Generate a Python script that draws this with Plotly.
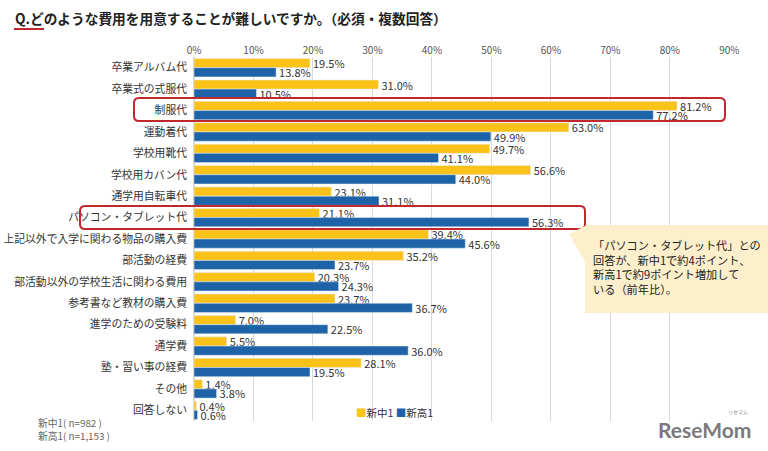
import plotly.graph_objects as go

categories = ["卒業アルバム代", "卒業式の式服代", "制服代", "運動着代", "学校用靴代", "学校用カバン代",
              "通学用自転車代", "パソコン・タブレット代", "上記以外で入学に関わる物品の購入費", "部活動の経費",
              "部活動以外の学校生活に関わる費用", "参考書など教材の購入費", "進学のための受験料", "通学費",
              "塾・習い事の経費", "その他", "回答しない"]
chu1 = [19.5, 31.0, 81.2, 63.0, 49.7, 56.6, 23.1, 21.1, 39.4, 35.2, 20.3, 23.7, 7.0, 5.5, 28.1, 1.4, 0.4]
kou1 = [13.8, 10.5, 77.2, 49.9, 41.1, 44.0, 31.1, 56.3, 45.6, 23.7, 24.3, 36.7, 22.5, 36.0, 19.5, 3.8, 0.6]
series_names = ["新中1", "新高1"]
tickvals = [0, 10, 20, 30, 40, 50, 60, 70, 80, 90]
ticktext = [f"{v}%" for v in tickvals]

W, H = 768, 451
L, R, T, B = 194, 38, 57, 30
PW, PH = W - L - R, H - T - B
FONT = "Noto Sans CJK JP"
YEL = "#FBC21A"
BLU = "#1E63A8"


def px(x):
    return (x - L) / PW


def py(y):
    return (H - B - y) / PH


def rounded(x0, y0, x1, y1, r=5):
    ax0, ax1 = px(x0), px(x1)
    ay0, ay1 = py(y0), py(y1)
    rx, ry = r / PW, r / PH
    return (f"M{ax0+rx},{ay0} L{ax1-rx},{ay0} Q{ax1},{ay0} {ax1},{ay0-ry} "
            f"L{ax1},{ay1+ry} Q{ax1},{ay1} {ax1-rx},{ay1} L{ax0+rx},{ay1} "
            f"Q{ax0},{ay1} {ax0},{ay1+ry} L{ax0},{ay0-ry} Q{ax0},{ay0} {ax0+rx},{ay0} Z")


fig = go.Figure()
for name, vals, col in [(series_names[0], chu1, YEL), (series_names[1], kou1, BLU)]:
    fig.add_trace(go.Bar(y=categories, x=vals, name=name, orientation="h", marker_color=col,
                         texttemplate="%{x:.1f}%", textposition="outside", constraintext="none",
                         cliponaxis=False, textfont=dict(size=11, color="#333333")))

shapes = []
shapes.append(dict(type="path", xref="paper", yref="paper", path=rounded(134, 98, 725, 121),
                   line=dict(color="#C0282D", width=2), fillcolor="rgba(0,0,0,0)", layer="above"))
shapes.append(dict(type="path", xref="paper", yref="paper", path=rounded(80, 206, 585, 229),
                   line=dict(color="#C0282D", width=2), fillcolor="rgba(0,0,0,0)", layer="above"))
callout = (f"M{px(585)},{py(225)} L{px(768)},{py(225)} L{px(768)},{py(313)} L{px(585)},{py(313)} "
           f"L{px(585)},{py(262)} L{px(569)},{py(234)} L{px(587)},{py(225)} Z")
shapes.append(dict(type="path", xref="paper", yref="paper", path=callout,
                   line=dict(width=0), fillcolor="#FDEFCB", layer="above"))
shapes.append(dict(type="line", xref="paper", yref="paper", x0=px(14), x1=px(44), y0=py(29), y1=py(29),
                   line=dict(color="#C0282D", width=2)))

annotations = [
    dict(text="<b>Q.どのような費用を用意することが難しいですか。（必須・複数回答）</b>", xref="paper", yref="paper",
         x=px(13), y=py(18), xanchor="left", yanchor="middle", showarrow=False,
         font=dict(size=13.7, color="#222222", family=FONT)),
    dict(text="「パソコン・タブレット代」との<br>回答が、新中1で約4ポイント、<br>新高1で約9ポイント増加して<br>いる（前年比）。",
         xref="paper", yref="paper", x=px(591), y=py(267), xanchor="left", yanchor="middle",
         align="left", showarrow=False, font=dict(size=11.2, color="#222222", family=FONT)),
    dict(text="新中1( n=982 )<br>新高1( n=1,153 )", xref="paper", yref="paper", x=px(36), y=py(429),
         xanchor="left", yanchor="middle", align="left", showarrow=False,
         font=dict(size=9.8, color="#666666", family=FONT)),
    dict(text=f"<span style='color:{YEL}'>■</span>{series_names[0]} <span style='color:{BLU}'>■</span>{series_names[1]}",
         xref="paper", yref="paper", x=px(354), y=py(412), xanchor="left", yanchor="middle",
         showarrow=False, font=dict(size=10.5, color="#333333", family=FONT)),
    dict(text="<b>ReseMom</b>", xref="paper", yref="paper", x=px(704), y=py(429),
         xanchor="center", yanchor="middle", showarrow=False,
         font=dict(size=21, color="#7A7A7A", family="Lato")),
    dict(text="リセマム", xref="paper", yref="paper", x=px(738), y=py(412),
         xanchor="center", yanchor="middle", showarrow=False,
         font=dict(size=5, color="#7A7A7A", family=FONT)),
]

fig.update_layout(
    width=W, height=H, margin=dict(l=L, r=R, t=T, b=B, autoexpand=False),
    paper_bgcolor="white", plot_bgcolor="white",
    barmode="group", bargap=0.14, bargroupgap=0,
    font=dict(family=FONT, color="#333333"),
    xaxis=dict(side="top", range=[0, 90.1], tickvals=tickvals, ticktext=ticktext, automargin=False,
               showgrid=True, gridcolor="#D9D9D9", gridwidth=1, zeroline=True, zerolinecolor="#D9D9D9",
               tickfont=dict(size=10, color="#555555"), fixedrange=True, ticks=""),
    yaxis=dict(autorange="reversed", tickfont=dict(size=10.8, color="#333333"), ticks="",
               automargin=False, ticklabelstandoff=6, showgrid=False),
    showlegend=False,
    shapes=shapes, annotations=annotations,
)

fig.write_html("out.html", config={"displayModeBar": False},
               post_script="document.body.style.margin='0';document.body.style.overflow='hidden';")
